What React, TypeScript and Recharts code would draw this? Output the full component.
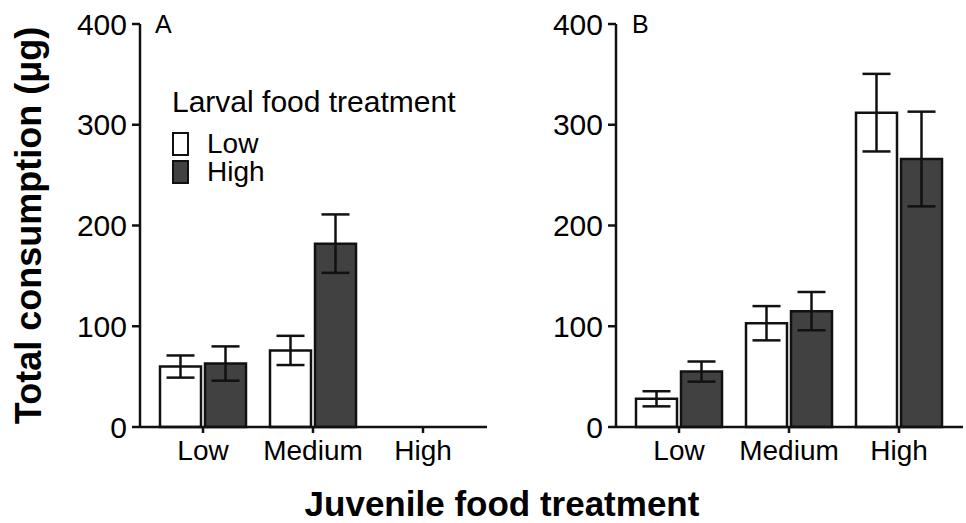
import { Bar, BarChart, ErrorBar, XAxis, YAxis } from "recharts"

const categories = ["Low", "Medium", "High"]
const yTicks = [0, 100, 200, 300, 400]

// panel A – larval food Low / High
const aLow = [60, 76, null]
const aHigh = [63, 182, null]
const aLowErr = [11, 14.5, null]
const aHighErr = [17, 29, null]

// panel B
const bLow = [28, 103, 312]
const bHigh = [55, 115, 266]
const bLowErr = [7.5, 17, 38.5]
const bHighErr = [10, 19, 47]

const FONT = "'Liberation Sans', Arial, sans-serif"
const DARK = "#414141"

const build = (low, high, lowErr, highErr) =>
  categories.map((c, i) => ({
    name: c,
    low: low[i],
    high: high[i],
    lowErr: lowErr[i],
    highErr: highErr[i],
  }))

const dataA = build(aLow, aHigh, aLowErr, aHighErr)
const dataB = build(bLow, bHigh, bLowErr, bHighErr)

const tickStyle = { fill: "#000", fontSize: 30, fontFamily: FONT }

function LegendBox() {
  const items = [
    { label: "Low", fill: "#fff" },
    { label: "High", fill: DARK },
  ]
  return (
    <div
      style={{
        position: "absolute",
        left: 172,
        top: 85,
        fontFamily: FONT,
        color: "#000",
      }}
    >
      <div style={{ fontSize: 30, lineHeight: "34px", marginBottom: 11 }}>
        Larval food treatment
      </div>
      {items.map((it) => (
        <div
          key={it.label}
          style={{ display: "flex", alignItems: "center", height: 28 }}
        >
          <span
            style={{
              display: "inline-block",
              width: 13,
              height: 20,
              background: it.fill,
              border: "2px solid #111",
              marginRight: 18,
            }}
          />
          <span style={{ fontSize: 28 }}>{it.label}</span>
        </div>
      ))}
    </div>
  )
}

function Panel({ data, left, width, marginLeft, yWidth, showLabel }) {
  return (
    <div style={{ position: "absolute", left, top: 0 }}>
      <BarChart
        width={width}
        height={487}
        data={data}
        margin={{ top: 24, right: 3, bottom: 0, left: marginLeft }}
        barCategoryGap={12}
        barGap={4}
      >
        <XAxis
          dataKey="name"
          padding={{ left: 8, right: 9 }}
          axisLine={{ stroke: "#111", strokeWidth: 2.5 }}
          tickLine={{ stroke: "#111", strokeWidth: 2.5 }}
          tickSize={6}
          tickMargin={7}
          tick={{ ...tickStyle, fontSize: 28 }}
          height={60}
        />
        <YAxis
          domain={[0, 400]}
          ticks={yTicks}
          width={yWidth}
          axisLine={{ stroke: "#111", strokeWidth: 2.5 }}
          tickLine={{ stroke: "#111", strokeWidth: 2.5 }}
          tickSize={8}
          tickMargin={5}
          tick={tickStyle}
          label={
            showLabel
              ? {
                  value: "Total consumption (μg)",
                  angle: -90,
                  position: "insideLeft",
                  offset: 28,
                  style: {
                    fontSize: 36,
                    fontWeight: "bold",
                    fontFamily: FONT,
                    fill: "#000",
                    textAnchor: "middle",
                  },
                }
              : undefined
          }
        />
        <Bar
          dataKey="low"
          name="Low"
          fill="#fff"
          stroke="#111"
          strokeWidth={2.5}
          isAnimationActive={false}
        >
          <ErrorBar dataKey="lowErr" width={14} stroke="#111" strokeWidth={2.5} />
        </Bar>
        <Bar
          dataKey="high"
          name="High"
          fill={DARK}
          stroke="#111"
          strokeWidth={2.5}
          isAnimationActive={false}
        >
          <ErrorBar dataKey="highErr" width={14} stroke="#111" strokeWidth={2.5} />
        </Bar>
      </BarChart>
    </div>
  )
}

export default function App() {
  return (
    <div
      style={{
        position: "absolute",
        left: 0,
        top: 0,
        width: 966,
        height: 523,
        background: "#fff",
        fontFamily: FONT,
        overflow: "hidden",
      }}
    >
      <Panel data={dataA} left={0} width={490} marginLeft={0} yWidth={140} showLabel />
      <Panel data={dataB} left={480} width={486} marginLeft={76} yWidth={60} showLabel={false} />
      <LegendBox />
      <div style={{ position: "absolute", left: 155, top: 10, fontSize: 25 }}>A</div>
      <div style={{ position: "absolute", left: 632, top: 10, fontSize: 25 }}>B</div>
      <div
        style={{
          position: "absolute",
          left: 0,
          width: 1004,
          top: 485,
          textAlign: "center",
          fontSize: 35,
          fontWeight: "bold",
          lineHeight: "38px",
        }}
      >
        Juvenile food treatment
      </div>
    </div>
  )
}
